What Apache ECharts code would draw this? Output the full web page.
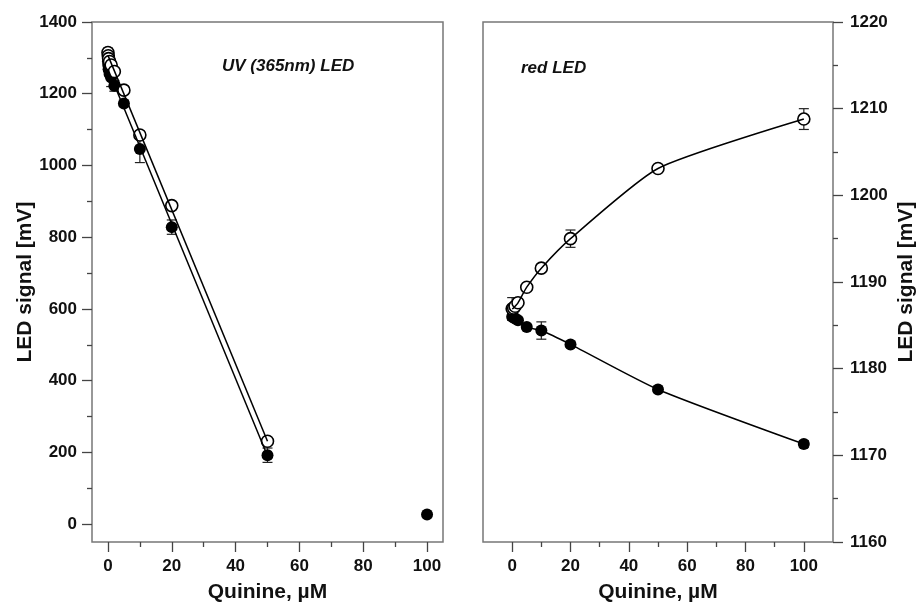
<!DOCTYPE html>
<html>
<head>
<meta charset="utf-8">
<script src="https://cdn.jsdelivr.net/npm/echarts@6/dist/echarts.min.js"></script>
<style>
  html, body { margin: 0; padding: 0; background: #fff; }
  #chart { width: 922px; height: 608px; }
</style>
</head>
<body>
<div id="chart"></div>
<script>
// UV (365nm) LED panel
const uvConcOpen = [0, 0.1, 0.2, 0.5, 1, 2, 5, 10, 20, 50];
const uvOpen = [1315, 1306, 1298, 1290, 1280, 1262, 1210, 1085, 888, 231];
const uvOpenErr = [12, 6, 5, 5, 8, 10, 10, 10, 8, 8];
const uvConcFilled = [0, 0.1, 0.2, 0.5, 1, 2, 5, 10, 20, 50, 100];
const uvFilled = [1290, 1280, 1268, 1255, 1245, 1222, 1173, 1046, 828, 192, 27];
const uvFilledErr = [10, 8, 6, 6, 25, 15, 8, 38, 20, 20, 5];
const uvFitX = [0, 50];
const uvOpenFit = [1307, 231];
const uvFilledFit = [1268, 190];

// red LED panel
const redConc = [0, 0.5, 1, 2, 5, 10, 20, 50, 100];
const redOpen = [1186.9, 1187.0, 1187.2, 1187.6, 1189.4, 1191.6, 1195.0, 1203.1, 1208.8];
const redOpenErr = [1.3, 0.3, 0.3, 0.3, 0.3, 0.3, 1.0, 0.3, 1.2];
const redFilled = [1186.0, 1185.9, 1185.8, 1185.6, 1184.8, 1184.4, 1182.8, 1177.6, 1171.3];
const redFilledErr = [0.4, 0.3, 0.3, 0.3, 0.3, 1.0, 0.3, 0.3, 0.4];

// ticks
const xTicks = [0, 20, 40, 60, 80, 100];
const xMinorTicks = [10, 30, 50, 70, 90];
const uvYTicks = [0, 200, 400, 600, 800, 1000, 1200, 1400];
const uvYMinorTicks = [100, 300, 500, 700, 900, 1100, 1300];
const redYTicks = [1160, 1170, 1180, 1190, 1200, 1210, 1220];
const redYMinorTicks = [1165, 1175, 1185, 1195, 1205, 1215];

const FONT = "'Liberation Sans', Arial, sans-serif";
const TEXT = "#111";
const BOX = "#777";
const TICK = "#444";

const zip = (xs, ys) => xs.map((x, i) => [x, ys[i]]);
const errData = (xs, ys, es) => xs.map((x, i) => [x, ys[i] - es[i], ys[i] + es[i]]);

function renderErr(params, api) {
  const x = api.value(0);
  const top = api.coord([x, api.value(2)]);
  const bot = api.coord([x, api.value(1)]);
  const w = 5;
  const style = { stroke: "#222", lineWidth: 1.2 };
  return {
    type: "group",
    children: [
      { type: "line", shape: { x1: top[0], y1: top[1], x2: bot[0], y2: bot[1] }, style: style },
      { type: "line", shape: { x1: top[0] - w, y1: top[1], x2: top[0] + w, y2: top[1] }, style: style },
      { type: "line", shape: { x1: bot[0] - w, y1: bot[1], x2: bot[0] + w, y2: bot[1] }, style: style },
    ],
  };
}

const labelStyle = { color: TEXT, fontFamily: FONT, fontWeight: "bold", fontSize: 17, formatter: (v) => String(v) };
const nameStyle = { color: TEXT, fontFamily: FONT, fontWeight: "bold", fontSize: 21 };

function axis(grid, min, max, ticks, len, extra) {
  return Object.assign({
    gridIndex: grid, type: "value", min: min, max: max,
    axisLine: { show: false, onZero: false },
    axisTick: { inside: false, length: len, lineStyle: { color: TICK, width: 1.3 }, customValues: ticks },
    axisLabel: { show: false },
    splitLine: { show: false },
  }, extra || {});
}

const xName = { name: "Quinine, \u00b5M", nameLocation: "middle", nameGap: 40, nameTextStyle: nameStyle };
const yName = { name: "LED signal [mV]", nameLocation: "middle", nameTextStyle: nameStyle };

const chart = echarts.init(document.getElementById("chart"));
const option = {
  animation: false,
  backgroundColor: "#fff",
  title: [
    { text: "UV (365nm) LED", left: 222, top: 58, padding: 0,
      textStyle: { color: TEXT, fontFamily: FONT, fontWeight: "bold", fontStyle: "italic", fontSize: 17 } },
    { text: "red LED", left: 521, top: 60, padding: 0,
      textStyle: { color: TEXT, fontFamily: FONT, fontWeight: "bold", fontStyle: "italic", fontSize: 17 } },
  ],
  grid: [
    { left: 92, top: 22, width: 351, height: 525, show: true, borderColor: BOX, borderWidth: 1.5, backgroundColor: "transparent" },
    { left: 483, top: 22, width: 350, height: 525, show: true, borderColor: BOX, borderWidth: 1.5, backgroundColor: "transparent" },
  ],
  xAxis: [
    axis(0, -5, 105, xTicks, 10, Object.assign({
      position: "bottom",
      axisLabel: Object.assign({ margin: 16, customValues: xTicks }, labelStyle),
    }, xName)),
    axis(0, -5, 105, xMinorTicks, 5, { position: "bottom" }),
    axis(1, -10, 110, xTicks, 10, Object.assign({
      position: "bottom",
      axisLabel: Object.assign({ margin: 16, customValues: xTicks }, labelStyle),
    }, xName)),
    axis(1, -10, 110, xMinorTicks, 5, { position: "bottom" }),
  ],
  yAxis: [
    axis(0, -50, 1400, uvYTicks, 10, Object.assign({
      position: "left",
      axisLabel: Object.assign({ margin: 15, customValues: uvYTicks }, labelStyle),
    }, yName, { nameGap: 46 })),
    axis(0, -50, 1400, uvYMinorTicks, 5, { position: "left" }),
    axis(1, 1160, 1220, redYTicks, 10, Object.assign({
      position: "right",
      axisLabel: Object.assign({ margin: 17, customValues: redYTicks }, labelStyle),
    }, yName, { nameGap: 63 })),
    axis(1, 1160, 1220, redYMinorTicks, 5, { position: "right" }),
  ],
  series: [
    // UV panel
    { type: "line", xAxisIndex: 0, yAxisIndex: 0, data: zip(uvFitX, uvFilledFit), symbol: "none",
      lineStyle: { color: "#000", width: 1.5 } },
    { type: "line", xAxisIndex: 0, yAxisIndex: 0, data: zip(uvFitX, uvOpenFit), symbol: "none",
      lineStyle: { color: "#000", width: 1.5 } },
    { type: "custom", xAxisIndex: 0, yAxisIndex: 0, renderItem: renderErr,
      data: errData(uvConcFilled, uvFilled, uvFilledErr), encode: { x: 0, y: [1, 2] } },
    { type: "custom", xAxisIndex: 0, yAxisIndex: 0, renderItem: renderErr,
      data: errData(uvConcOpen, uvOpen, uvOpenErr), encode: { x: 0, y: [1, 2] } },
    { type: "scatter", xAxisIndex: 0, yAxisIndex: 0, data: zip(uvConcFilled, uvFilled), symbolSize: 12,
      itemStyle: { color: "#000", opacity: 1 } },
    { type: "scatter", xAxisIndex: 0, yAxisIndex: 0, data: zip(uvConcOpen, uvOpen), symbolSize: 12,
      itemStyle: { color: "#fff", borderColor: "#000", borderWidth: 1.6, opacity: 1 } },
    // red panel
    { type: "line", xAxisIndex: 2, yAxisIndex: 2, data: zip(redConc, redFilled), symbol: "none",
      smooth: 0.2, lineStyle: { color: "#000", width: 1.5 } },
    { type: "line", xAxisIndex: 2, yAxisIndex: 2, data: zip(redConc, redOpen), symbol: "none",
      smooth: 0.2, lineStyle: { color: "#000", width: 1.5 } },
    { type: "custom", xAxisIndex: 2, yAxisIndex: 2, renderItem: renderErr,
      data: errData(redConc, redFilled, redFilledErr), encode: { x: 0, y: [1, 2] } },
    { type: "custom", xAxisIndex: 2, yAxisIndex: 2, renderItem: renderErr,
      data: errData(redConc, redOpen, redOpenErr), encode: { x: 0, y: [1, 2] } },
    { type: "scatter", xAxisIndex: 2, yAxisIndex: 2, data: zip(redConc, redFilled), symbolSize: 12,
      itemStyle: { color: "#000", opacity: 1 } },
    { type: "scatter", xAxisIndex: 2, yAxisIndex: 2, data: zip(redConc, redOpen), symbolSize: 12,
      itemStyle: { color: "#fff", borderColor: "#000", borderWidth: 1.6, opacity: 1 } },
  ],
};
chart.setOption(option);
window.addEventListener("resize", function () {
  chart.resize();
});
</script>
</body>
</html>
